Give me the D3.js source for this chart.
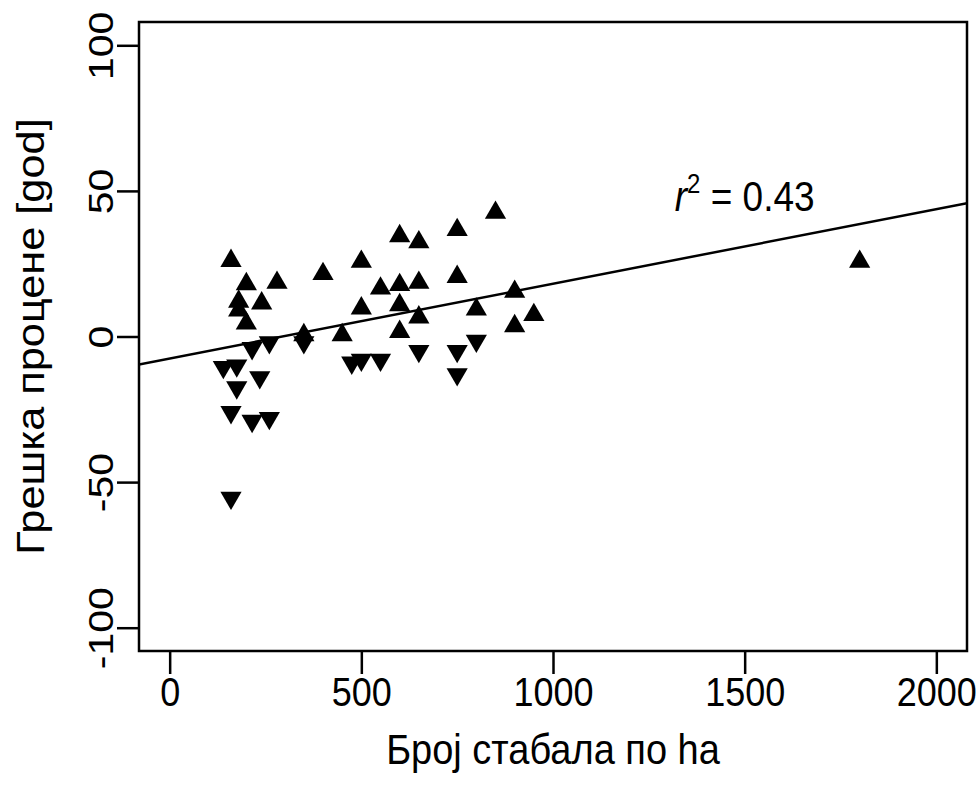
<!DOCTYPE html>
<html>
<head>
<meta charset="utf-8">
<script src="https://cdn.jsdelivr.net/npm/d3@7"></script>
<style>
  body { margin: 0; background: #fff; }
  text { font-family: "Liberation Sans", Arial, sans-serif; fill: #000; }
</style>
</head>
<body>
<svg id="chart" width="979" height="785"></svg>
<script>
// points above zero (▲) and below zero (▼)
const upX = [160, 200, 280, 400, 500, 180, 240, 180, 200, 350, 450, 500, 850, 600, 650, 750,
  550, 600, 650, 750, 600, 650, 800, 900, 950, 900, 600, 1800];
const upY = [26, 18, 18.5, 21.5, 25.7, 12, 11.4, 9, 4.5, 0.5, 0.5, 9.7, 42.5, 34.5, 32.4, 36.6,
  16.5, 17.7, 18.5, 20.5, 10.8, 6.6, 9.3, 15.4, 7.4, 3.6, 1.6, 25.7];
const downX = [215, 260, 140, 175, 235, 175, 160, 215, 260, 160, 350, 475, 500, 550, 650, 750, 800, 750];
const downY = [-4, -2, -10.5, -10, -14, -17.5, -26, -29, -28, -55.4, -2, -9, -8, -8, -5, -5, -1.5, -13];

const xTicks = [0, 500, 1000, 1500, 2000];
const yTicks = [-100, -50, 0, 50, 100];
const xLabel = 'Број стабала по ha';
const yLabel = 'Грешка процене [god]';

// fitted line y = a + b * x
const fitA = -7.55;
const fitB = 0.02565;
const r2 = '0.43';

const w = 979;
const h = 785;
const m = { top: 22, right: 12, bottom: 134, left: 139 };
const fs = 36;
const st = 1.14; // text in the reference is a bit taller than wide

const svg = d3.select('#chart');

const xScale = d3.scaleLinear()
  .domain([-80, 2080])
  .range([m.left, w - m.right]);

const yScale = d3.scaleLinear()
  .domain([-108, 108])
  .range([h - m.bottom, m.top]);

const fmt = (d) => String(d);
const xAxis = d3.axisBottom(xScale).tickValues(xTicks).tickFormat(fmt).tickSize(23);
const yAxis = d3.axisLeft(yScale).tickValues(yTicks).tickFormat(fmt).tickSize(22);

svg.append('g')
  .attr('transform', `translate(0, ${h - m.bottom})`)
  .call(xAxis)
  .call((g) => g.select('.domain').remove())
  .call((g) => g.selectAll('.tick line').attr('stroke', '#000').attr('stroke-width', 2.5))
  .call((g) => g.selectAll('.tick text')
    .attr('font-size', fs)
    .attr('font-family', '"Liberation Sans", Arial, sans-serif')
    .attr('y', 0)
    .attr('dy', 0)
    .attr('transform', `translate(0, 55) scale(1, ${st})`));

svg.append('g')
  .attr('transform', `translate(${m.left}, 0)`)
  .call(yAxis)
  .call((g) => g.select('.domain').remove())
  .call((g) => g.selectAll('.tick line').attr('stroke', '#000').attr('stroke-width', 2.5))
  .call((g) => g.selectAll('.tick text')
    .attr('font-size', fs)
    .attr('font-family', '"Liberation Sans", Arial, sans-serif')
    .attr('transform', `rotate(-90) scale(${st}, 1)`)
    .attr('x', 0)
    .attr('y', -26)
    .attr('dy', 0)
    .attr('text-anchor', 'middle'));

// regression line, clipped to the plot box
svg.append('clipPath')
  .attr('id', 'plotClip')
  .append('rect')
  .attr('x', m.left)
  .attr('y', m.top)
  .attr('width', w - m.left - m.right)
  .attr('height', h - m.top - m.bottom);

svg.append('path')
  .datum(xScale.domain())
  .attr('clip-path', 'url(#plotClip)')
  .attr('fill', 'none')
  .attr('stroke', '#000')
  .attr('stroke-width', 2.5)
  .attr('d', d3.line()
    .x((d) => xScale(d))
    .y((d) => yScale(fitA + fitB * d)));

const tri = d3.symbol().type(d3.symbolTriangle).size(195);

svg.append('g')
  .selectAll('path')
  .data(upX.map((x, i) => [x, upY[i]]))
  .join('path')
  .attr('transform', (d) => `translate(${xScale(d[0])}, ${yScale(d[1])})`)
  .attr('d', tri)
  .attr('fill', '#000');

svg.append('g')
  .selectAll('path')
  .data(downX.map((x, i) => [x, downY[i]]))
  .join('path')
  .attr('transform', (d) => `translate(${xScale(d[0])}, ${yScale(d[1])}) rotate(180)`)
  .attr('d', tri)
  .attr('fill', '#000');

// box
svg.append('rect')
  .attr('x', m.left)
  .attr('y', m.top)
  .attr('width', w - m.left - m.right)
  .attr('height', h - m.top - m.bottom)
  .attr('fill', 'none')
  .attr('stroke', '#000')
  .attr('stroke-width', 2.5);

// r^2 note
const note = svg.append('text')
  .attr('transform', `translate(${xScale(1500)}, ${yScale(43)}) scale(1, ${st})`)
  .attr('text-anchor', 'middle')
  .attr('font-size', 37);
note.append('tspan').attr('font-style', 'italic').text('r');
note.append('tspan').attr('font-size', 24).attr('dy', -16).text('2');
note.append('tspan').attr('dy', 16).text(` = ${r2}`);

svg.append('text')
  .attr('transform', `translate(${(m.left + w - m.right) / 2}, 764) scale(1, ${st})`)
  .attr('text-anchor', 'middle')
  .attr('font-size', 38)
  .text(xLabel);

svg.append('text')
  .attr('transform', `translate(44, ${(m.top + h - m.bottom) / 2}) rotate(-90) scale(${st}, 1)`)
  .attr('text-anchor', 'middle')
  .attr('font-size', 38)
  .text(yLabel);
</script>
</body>
</html>
